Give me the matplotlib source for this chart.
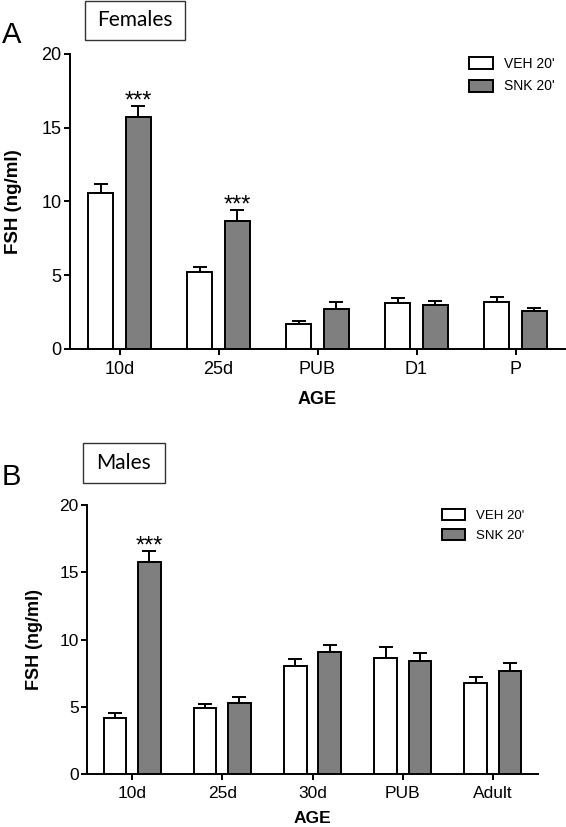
import matplotlib
matplotlib.use("Agg")
import matplotlib.pyplot as plt
import numpy as np
from matplotlib.patches import Patch, Rectangle

plt.rcParams["font.family"] = ["Liberation Sans", "DejaVu Sans"]

# panel A - females
fem_ages = ["10d", "25d", "PUB", "D1", "P"]
fem_veh = [10.6, 5.25, 1.7, 3.1, 3.2]
fem_veh_err = [0.6, 0.33, 0.23, 0.34, 0.3]
fem_snk = [15.7, 8.65, 2.7, 3.0, 2.55]
fem_snk_err = [0.8, 0.8, 0.5, 0.25, 0.25]
fem_stars = ["***", "***", "", "", ""]

# panel B - males
male_ages = ["10d", "25d", "30d", "PUB", "Adult"]
male_veh = [4.2, 4.9, 8.0, 8.6, 6.8]
male_veh_err = [0.32, 0.27, 0.57, 0.87, 0.4]
male_snk = [15.75, 5.3, 9.05, 8.43, 7.65]
male_snk_err = [0.84, 0.45, 0.55, 0.6, 0.62]
male_stars = ["***", "", "", "", ""]

series_names = ["VEH 20'", "SNK 20'"]
series_colors = ["white", "#7f7f7f"]

W, H = 566, 827


def fx(px):
    return px / W


def fy(py):
    return 1 - py / H


def draw_panel(fig, rect, ages, veh, veh_err, snk, snk_err, stars,
               fs_tick, fs_lab, fs_leg, leg_xy, leg_space, xlab_off, ylab_off):
    ax = fig.add_axes(rect)
    x = np.arange(len(ages))
    width = 0.25
    off = 0.19
    for vals, errs, sign, col in [(veh, veh_err, -1, series_colors[0]),
                                  (snk, snk_err, 1, series_colors[1])]:
        ax.bar(x + sign * off, vals, width, color=col, edgecolor="black",
               linewidth=1.4, zorder=2)
        ax.errorbar(x + sign * off, vals, yerr=[np.zeros(len(vals)), errs],
                    fmt="none", ecolor="black", elinewidth=1.4, capsize=5,
                    capthick=1.4, zorder=1)
    for i, s in enumerate(stars):
        if s:
            ax.annotate(s, (x[i] + off, snk[i] + snk_err[i]), xytext=(0, -1.5),
                        textcoords="offset points", ha="center", va="baseline",
                        fontsize=17)

    ax.set_xlim(-0.5, 4.5)
    ax.set_ylim(0, 20)
    ax.set_yticks([0, 5, 10, 15, 20])
    ax.set_xticks(x)
    ax.set_xticklabels(ages)
    for sp in ["top", "right"]:
        ax.spines[sp].set_visible(False)
    for sp in ["left", "bottom"]:
        ax.spines[sp].set_linewidth(1.4)
    ax.tick_params(axis="both", length=4, width=1.4, labelsize=fs_tick, pad=2)
    ax.tick_params(axis="x", pad=5)

    ax.set_xlabel("AGE", fontsize=fs_lab, fontweight="bold")
    ax.set_ylabel("FSH (ng/ml)", fontsize=fs_lab + 0.5, fontweight="bold")
    bb = ax.get_position()
    ax.xaxis.set_label_coords(0.5, -xlab_off / (bb.height * H))
    ax.yaxis.set_label_coords(-ylab_off / (bb.width * W), 0.5)

    handles = [Patch(facecolor=c, edgecolor="black", linewidth=1.4)
               for c in series_colors]
    ax.legend(handles, series_names, loc="upper left",
              bbox_to_anchor=leg_xy, bbox_transform=fig.transFigure,
              frameon=False, fontsize=fs_leg, handlelength=1.75,
              handleheight=0.95, handletextpad=0.8, labelspacing=leg_space,
              borderpad=0, borderaxespad=0)
    return ax


fig = plt.figure(figsize=(W / 100, H / 100), dpi=100)

draw_panel(fig, [fx(70), fy(349), fx(565) - fx(70), fy(54) - fy(349)],
           fem_ages, fem_veh, fem_veh_err, fem_snk, fem_snk_err, fem_stars,
           fs_tick=13, fs_lab=13, fs_leg=10, leg_xy=(fx(469), fy(57)),
           leg_space=0.6, xlab_off=42, ylab_off=48)

draw_panel(fig, [fx(87), fy(774), fx(538) - fx(87), fy(505) - fy(774)],
           male_ages, male_veh, male_veh_err, male_snk, male_snk_err, male_stars,
           fs_tick=12.5, fs_lab=12.5, fs_leg=9.5, leg_xy=(fx(442), fy(509)),
           leg_space=0.5, xlab_off=37, ylab_off=44)

# panel letters and title boxes
fig.text(fx(2), fy(43), "A", fontsize=21, ha="left", va="baseline")
fig.text(fx(2), fy(485), "B", fontsize=21, ha="left", va="baseline")

for (x0, y0, x1, y1, label) in [(85, 1, 185, 40, "Females"), (83, 443, 165, 483, "Males")]:
    fig.add_artist(Rectangle((fx(x0), fy(y1)), fx(x1) - fx(x0), fy(y0) - fy(y1),
                             transform=fig.transFigure, facecolor="white",
                             edgecolor="#333333", linewidth=1.0))
    fig.text(fx((x0 + x1) / 2), fy((y0 + y1) / 2), label, fontsize=15,
             family=["Lato", "DejaVu Sans"], ha="center", va="center")

fig.savefig("out.png", dpi=100)
